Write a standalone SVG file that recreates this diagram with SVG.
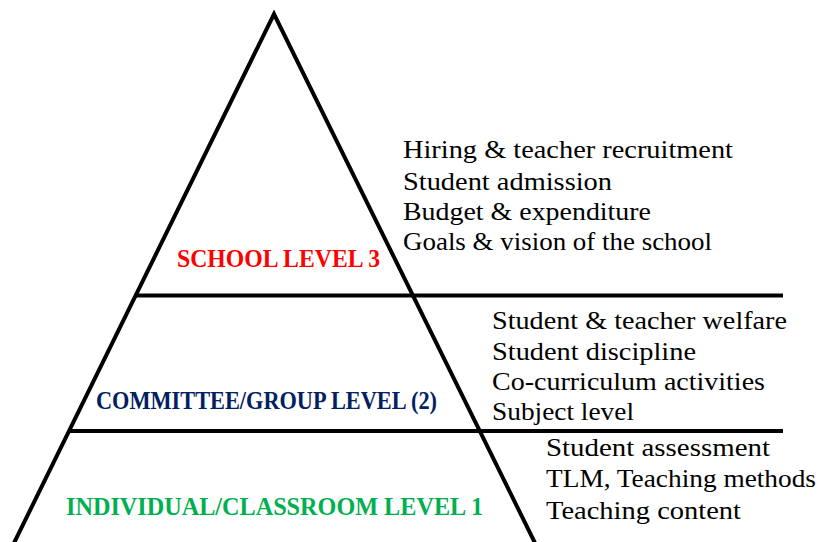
<svg xmlns="http://www.w3.org/2000/svg" width="820" height="542" viewBox="0 0 820 542">
  <style>
    .edge { stroke: #000; stroke-width: 4; fill: none; stroke-linecap: butt; }
    .item text { font-family: "Liberation Serif", "DejaVu Serif", serif; font-size: 26px; fill: #000; }
    .level { font-family: "Liberation Serif", "DejaVu Serif", serif; font-size: 25px; font-weight: bold; }
  </style>
  <rect width="820" height="542" fill="#fff"/>

  <!-- pyramid outline and tier dividers -->
  <g id="connectors">
    <polyline class="edge" points="13,545 274,14 536,545"/>
    <line class="edge" x1="135" y1="295.5" x2="783" y2="295.5"/>
    <line class="edge" x1="68" y1="431" x2="783" y2="431"/>
  </g>

  <g id="school-level">
    <text class="level" x="177" y="267" fill="#ff0000" textLength="203" lengthAdjust="spacingAndGlyphs">SCHOOL LEVEL 3</text>
    <g class="item">
      <text x="403" y="158" textLength="330" lengthAdjust="spacingAndGlyphs">Hiring &amp; teacher recruitment</text>
      <text x="403" y="190" textLength="209" lengthAdjust="spacingAndGlyphs">Student admission</text>
      <text x="403" y="220" textLength="248" lengthAdjust="spacingAndGlyphs">Budget &amp; expenditure</text>
      <text x="403" y="250" textLength="309" lengthAdjust="spacingAndGlyphs">Goals &amp; vision of the school</text>
    </g>
  </g>

  <g id="committee-level">
    <text class="level" x="96" y="409" fill="#002060" textLength="341" lengthAdjust="spacingAndGlyphs">COMMITTEE/GROUP LEVEL (2)</text>
    <g class="item">
      <text x="492" y="329" textLength="295" lengthAdjust="spacingAndGlyphs">Student &amp; teacher welfare</text>
      <text x="492" y="360" textLength="204" lengthAdjust="spacingAndGlyphs">Student discipline</text>
      <text x="492" y="390" textLength="273" lengthAdjust="spacingAndGlyphs">Co-curriculum activities</text>
      <text x="492" y="420" textLength="142" lengthAdjust="spacingAndGlyphs">Subject level</text>
    </g>
  </g>

  <g id="classroom-level">
    <text class="level" x="66" y="515" fill="#00b050" textLength="417" lengthAdjust="spacingAndGlyphs">INDIVIDUAL/CLASSROOM LEVEL 1</text>
    <g class="item">
      <text x="546" y="456" textLength="224" lengthAdjust="spacingAndGlyphs">Student assessment</text>
      <text x="546" y="487" textLength="270" lengthAdjust="spacingAndGlyphs">TLM, Teaching methods</text>
      <text x="546" y="519" textLength="195" lengthAdjust="spacingAndGlyphs">Teaching content</text>
    </g>
  </g>
</svg>
